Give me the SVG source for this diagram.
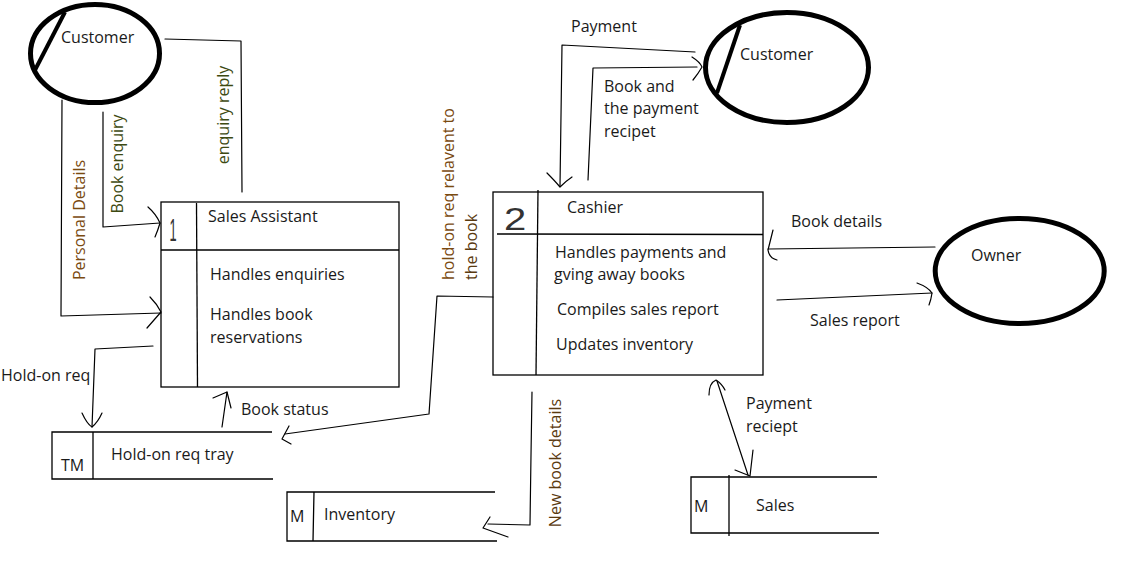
<svg xmlns="http://www.w3.org/2000/svg" width="1132" height="580" viewBox="0 0 1132 580">
<style>
.t{font-family:"Open Sans","Noto Sans",sans-serif;font-size:16px;fill:#1a1a1a}
.v1{fill:#7a4a10}
.v2{fill:#3d4a12}
.v3{fill:#5a3a10}
.num{font-family:"Liberation Sans",sans-serif;fill:#333}
.ln{stroke:#000;stroke-width:1.2;fill:none;stroke-linecap:round;stroke-linejoin:round}
.ent{stroke:#000;stroke-width:5;fill:none}
.box{stroke:#000;stroke-width:1.3;fill:none}
</style>
<rect width="1132" height="580" fill="#fff"/>

<g id="customer1">
<ellipse class="ent" cx="95" cy="53.5" rx="64.5" ry="49"/>
<line x1="65" y1="12" x2="35" y2="70" stroke="#000" stroke-width="4"/>
<text class="t" x="61" y="43">Customer</text>
</g>

<g id="customer2">
<ellipse class="ent" cx="787" cy="67.5" rx="81.5" ry="55"/>
<line x1="740" y1="25" x2="717" y2="93" stroke="#000" stroke-width="4"/>
<text class="t" x="740" y="60">Customer</text>
</g>

<g id="owner">
<ellipse class="ent" cx="1019.7" cy="271" rx="84.5" ry="52.5"/>
<text class="t" x="971" y="261">Owner</text>
</g>

<g id="sales-assistant">
<rect class="box" x="161" y="202" width="238" height="185"/>
<line class="box" x1="161" y1="250" x2="399" y2="250"/>
<line class="box" x1="196.5" y1="203" x2="197.5" y2="387"/>
<text class="num" transform="translate(173,241) scale(0.4,1)" font-size="32" text-anchor="middle">1</text>
<text class="t" x="208" y="222">Sales Assistant</text>
<text class="t" x="210" y="280">Handles enquiries</text>
<text class="t" x="210" y="320">Handles book</text>
<text class="t" x="210" y="343">reservations</text>
</g>

<g id="cashier">
<rect class="box" x="493" y="192" width="270" height="183"/>
<line class="box" x1="497" y1="234" x2="763" y2="234.5"/>
<line class="box" x1="538" y1="190" x2="536" y2="375"/>
<text class="num" transform="translate(504,230) scale(1.25,1)" font-size="32">2</text>
<text class="t" x="567" y="213">Cashier</text>
<text class="t" x="555" y="258">Handles payments and</text>
<text class="t" x="554" y="280">gving away books</text>
<text class="t" x="557" y="315">Compiles sales report</text>
<text class="t" x="556" y="350">Updates inventory</text>
</g>

<g id="holdon-tray">
<path class="box" d="M272,432 L52,432 L52,479 L273,479 M93,432 L93,479"/>
<text class="t" x="61" y="471">TM</text>
<text class="t" x="111" y="460">Hold-on req tray</text>
</g>

<g id="inventory">
<path class="box" d="M495,492 L287,492 L287,541 L497,541 M314,492 L313,541"/>
<text class="t" x="290" y="522">M</text>
<text class="t" x="324" y="520">Inventory</text>
</g>

<g id="sales-store">
<path class="box" d="M877,477 L691,477 L691,533 L879,533 M729,475 L729,536"/>
<text class="t" x="694" y="512">M</text>
<text class="t" x="756" y="511">Sales</text>
</g>

<g id="connectors">
<!-- enquiry reply -->
<path class="ln" d="M165,39 L241,41 L242,192"/>
<text class="t v2" transform="translate(229,115) rotate(-90)" text-anchor="middle">enquiry reply</text>
<!-- book enquiry -->
<path class="ln" d="M103,112 L103,227 L160,223"/>
<path class="ln" d="M148,207 Q156,214 160,223 Q158,230 155,237"/>
<text class="t v2" transform="translate(123,164) rotate(-90)" text-anchor="middle">Book enquiry</text>
<!-- personal details -->
<path class="ln" d="M62,100 L61,316 L161,313"/>
<path class="ln" d="M150,297 Q157,304 161,312 Q154,320 147,328"/>
<text class="t v1" transform="translate(85,220) rotate(-90)" text-anchor="middle">Personal Details</text>
<!-- hold-on req -->
<path class="ln" d="M153,346 L95,349 L92,427"/>
<path class="ln" d="M82,413 Q87,424 92,427 Q98,422 102,413"/>
<text class="t" x="1" y="381" font-size="15">Hold-on req</text>
<!-- book status -->
<path class="ln" d="M222,427 L227,392"/>
<path class="ln" d="M213,398 L227,392 L231,408"/>
<text class="t" x="241" y="415">Book status</text>
<!-- hold-on req relavent to the book -->
<path class="ln" d="M493,297 L437,296 L429,414 L285,434"/>
<path class="ln" d="M289,426 L282,439 L291,444"/>
<text class="t v1" transform="translate(454,280) rotate(-90)">hold-on req relavent to</text>
<text class="t v3" transform="translate(477,280) rotate(-90)">the book</text>
<!-- payment -->
<path class="ln" d="M695,52 L562,45 L560,186"/>
<path class="ln" d="M547,173 Q555,181 560,187 Q566,181 572,177"/>
<text class="t" x="571" y="32">Payment</text>
<!-- book and the payment recipet -->
<path class="ln" d="M588,180 L593,68 L697,67"/>
<path class="ln" d="M692,57 Q700,62 702,67 Q698,74 693,80"/>
<text class="t" x="604" y="92">Book and</text>
<text class="t" x="604" y="114">the payment</text>
<text class="t" x="604" y="137">recipet</text>
<!-- book details -->
<path class="ln" d="M935,247 L768,249"/>
<path class="ln" d="M773,230 L768,250 Q769,258 777,260"/>
<text class="t" x="791" y="227">Book details</text>
<!-- sales report -->
<path class="ln" d="M777,300 L932,293"/>
<path class="ln" d="M917,283 Q928,287 932,293 Q931,300 929,305"/>
<text class="t" x="810" y="326">Sales report</text>
<!-- payment reciept -->
<path class="ln" d="M717,381 L748,475"/>
<path class="ln" d="M709,395 Q709,383 716,380 Q722,384 725,390"/>
<path class="ln" d="M735,470 L750,476 L753,450"/>
<text class="t" x="746" y="409">Payment</text>
<text class="t" x="746" y="432">reciept</text>
<!-- new book details -->
<path class="ln" d="M532,392 L531,455 L530,525 L488,524"/>
<path class="ln" d="M490,517 L483,528 L508,537"/>
<text class="t v3" transform="translate(561,463) rotate(-90)" text-anchor="middle">New book details</text>
</g>
</svg>
